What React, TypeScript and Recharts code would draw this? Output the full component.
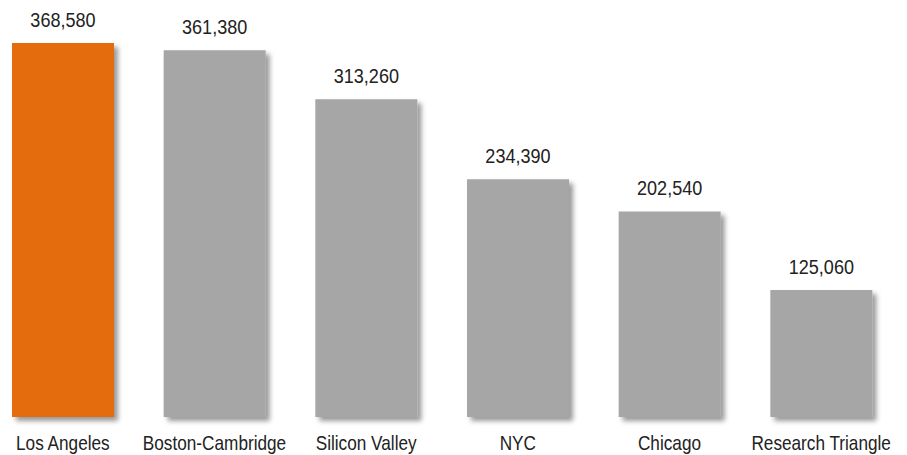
import React from 'react';
import { BarChart, Bar, XAxis, YAxis, Cell, LabelList, Rectangle } from 'recharts';

const categories = ['Los Angeles', 'Boston-Cambridge', 'Silicon Valley', 'NYC', 'Chicago', 'Research Triangle'];
const values = [368580, 361380, 313260, 234390, 202540, 125060];
const colors = ['#E46C0A', '#A6A6A6', '#A6A6A6', '#A6A6A6', '#A6A6A6', '#A6A6A6'];

const data = categories.map((name, i) => ({ name, value: values[i] }));

const FONT = '"Liberation Sans", Arial, sans-serif';

const ShadowBar = (props: any) => <Rectangle {...props} filter="url(#barShadow)" />;

const Tick = (props: any) => {
  const { x, y, payload } = props;
  return (
    <text
      transform={`translate(${x},${y + 33}) scale(0.86,1)`}
      textAnchor="middle"
      fill="#222"
      fontSize={20}
      fontFamily={FONT}
    >
      {payload.value}
    </text>
  );
};

const ValueLabel = (props: any) => {
  const { x, y, width, value } = props;
  const cx = Number(x) + Number(width) / 2;
  return (
    <text
      transform={`translate(${cx},${Number(y) - 16}) scale(0.86,1)`}
      textAnchor="middle"
      fill="#222"
      fontSize={21}
      fontFamily={FONT}
    >
      {Number(value).toLocaleString('en-US')}
    </text>
  );
};

export default function App() {
  return (
    <div style={{ position: 'absolute', left: -13, top: 0 }}>
      <BarChart width={910} height={455} data={data} margin={{ top: 43, right: 0, bottom: 0, left: 0 }} barCategoryGap={0}>
        <defs>
          <filter id="barShadow" x="-20%" y="-20%" width="150%" height="150%">
            <feDropShadow dx="4" dy="4" stdDeviation="2.5" floodColor="#000" floodOpacity="0.4" />
          </filter>
        </defs>
        <XAxis
          dataKey="name"
          axisLine={false}
          tickLine={false}
          tickSize={0}
          tickMargin={0}
          height={38}
          interval={0}
          tick={<Tick />}
        />
        <YAxis hide domain={[0, 368580]} />
        <Bar dataKey="value" barSize={102} isAnimationActive={false} shape={<ShadowBar />}>
          {data.map((d, i) => (
            <Cell key={d.name} fill={colors[i]} />
          ))}
          <LabelList dataKey="value" content={<ValueLabel />} />
        </Bar>
      </BarChart>
    </div>
  );
}
